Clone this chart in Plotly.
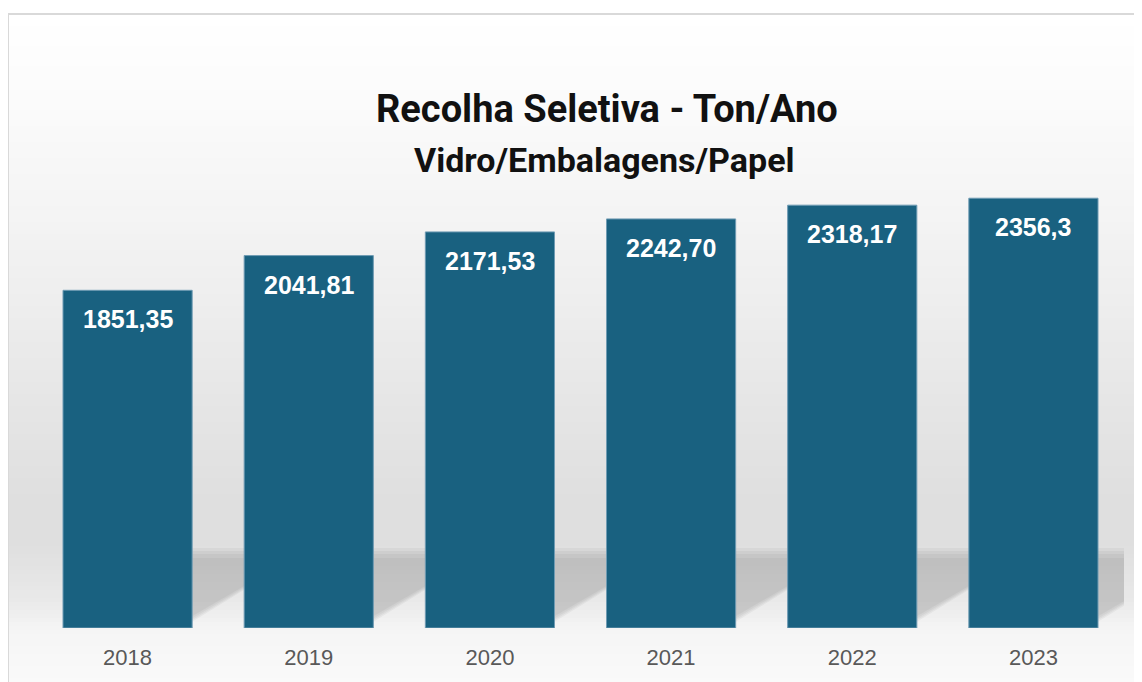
import plotly.graph_objects as go

# ---- data ----
years = ["2018", "2019", "2020", "2021", "2022", "2023"]
values = [1851.35, 2041.81, 2171.53, 2242.70, 2318.17, 2356.30]
labels = ["1851,35", "2041,81", "2171,53", "2242,70", "2318,17", "2356,3"]
title_text = "Recolha Seletiva - Ton/Ano"
subtitle_text = "Vidro/Embalagens/Papel"

# ---- layout geometry (page has an 8px body margin) ----
OFF = 8
W, H = 1142 - OFF, 682 - OFF
PLOT_L, PLOT_R, PLOT_T, PLOT_B = 37, 1124, 172, 628   # in screenshot pixels
L = PLOT_L - OFF
T = PLOT_T - OFF
R = W - (PLOT_R - OFF)
B = H - (PLOT_B - OFF)
pw, ph = W - L - R, H - T - B
YMAX = 2500
BARW = 0.713

def pxx(px):
    return (px - PLOT_L) / pw

def pxy(py):
    return (PLOT_B - py) / ph

x_idx = list(range(len(years)))
ux = pw / len(years)          # px per x unit
uy = ph / YMAX                # px per y unit

fig = go.Figure()
fig.add_trace(go.Bar(
    x=x_idx, y=values, width=BARW,
    marker=dict(color="#196180", line=dict(color="#6f9bb3", width=1)),
    hoverinfo="skip",
))

shapes = []
# background gradient (paper coords)
stops = [(14, 255), (100, 251), (200, 245), (300, 238), (400, 230),
         (500, 223), (545, 223), (600, 233), (630, 245), (682, 250)]

def gray_at(py):
    for (a, ga), (b, gb) in zip(stops[:-1], stops[1:]):
        if a <= py <= b:
            return ga + (gb - ga) * (py - a) / (b - a)
    return stops[-1][1]

step = 4
py = 14
while py < 700:
    g = int(round(gray_at(py + step / 2)))
    shapes.append(dict(type="rect", xref="paper", yref="paper",
                       x0=pxx(8), x1=pxx(1140), y0=pxy(py + step + 0.5), y1=pxy(py),
                       fillcolor=f"rgb({g},{g},{g})", line=dict(width=0), layer="below"))
    py += step

# border
shapes.append(dict(type="rect", xref="paper", yref="paper",
                   x0=pxx(8), x1=pxx(1140), y0=pxy(700), y1=pxy(14),
                   fillcolor="rgba(0,0,0,0)", line=dict(color="#d9d9d9", width=2), layer="below"))

# perspective shadows behind bars
sh_h = 80 / uy
for i, v in enumerate(values):
    xl = i - BARW / 2
    xr = i + BARW / 2
    for shrink, alpha in [(0, 0.04), (3, 0.04), (6, 0.04), (10, 0.04)]:
        dx_top = (130 - shrink) / ux
        r0 = xr - (10 + shrink) / ux
        top = sh_h - shrink / uy
        path = (f"M {xl},0 L {r0},0 L {r0 + dx_top},{top} "
                f"L {xl + dx_top},{top} Z")
        shapes.append(dict(type="path", xref="x", yref="y", path=path,
                           fillcolor=f"rgba(0,0,0,{alpha})", line=dict(width=0), layer="below"))

annotations = []
for i, (v, t) in enumerate(zip(values, labels)):
    annotations.append(dict(x=i, y=v, xref="x", yref="y", text=f"<b>{t}</b>",
                            showarrow=False, yshift=-29,
                            font=dict(family="Liberation Sans, Arial", size=25, color="white")))

annotations.append(dict(x=pxx(607), y=pxy(109), xref="paper", yref="paper",
                        xanchor="center", yanchor="middle",
                        text=f"<b>{title_text}</b>", showarrow=False,
                        font=dict(family="Roboto", size=38, color="#111111")))
annotations.append(dict(x=pxx(604), y=pxy(160), xref="paper", yref="paper",
                        xanchor="center", yanchor="middle",
                        text=f"<b>{subtitle_text}</b>", showarrow=False,
                        font=dict(family="Roboto", size=34, color="#111111")))

fig.update_layout(
    width=W, height=H,
    margin=dict(l=L, r=R, t=T, b=B, pad=0),
    paper_bgcolor="white", plot_bgcolor="rgba(0,0,0,0)",
    showlegend=False,
    shapes=shapes, annotations=annotations,
    xaxis=dict(range=[-0.5, len(years) - 0.5], tickvals=x_idx, ticktext=years,
               showgrid=False, zeroline=False, showline=False, ticks="",
               ticklabelstandoff=14,
               tickfont=dict(family="Liberation Sans, Arial", size=22, color="#595959"),
               fixedrange=True),
    yaxis=dict(range=[0, YMAX], visible=False, showgrid=False, zeroline=False, fixedrange=True),
)

fig.write_html("out.html", config={"displayModeBar": False})
